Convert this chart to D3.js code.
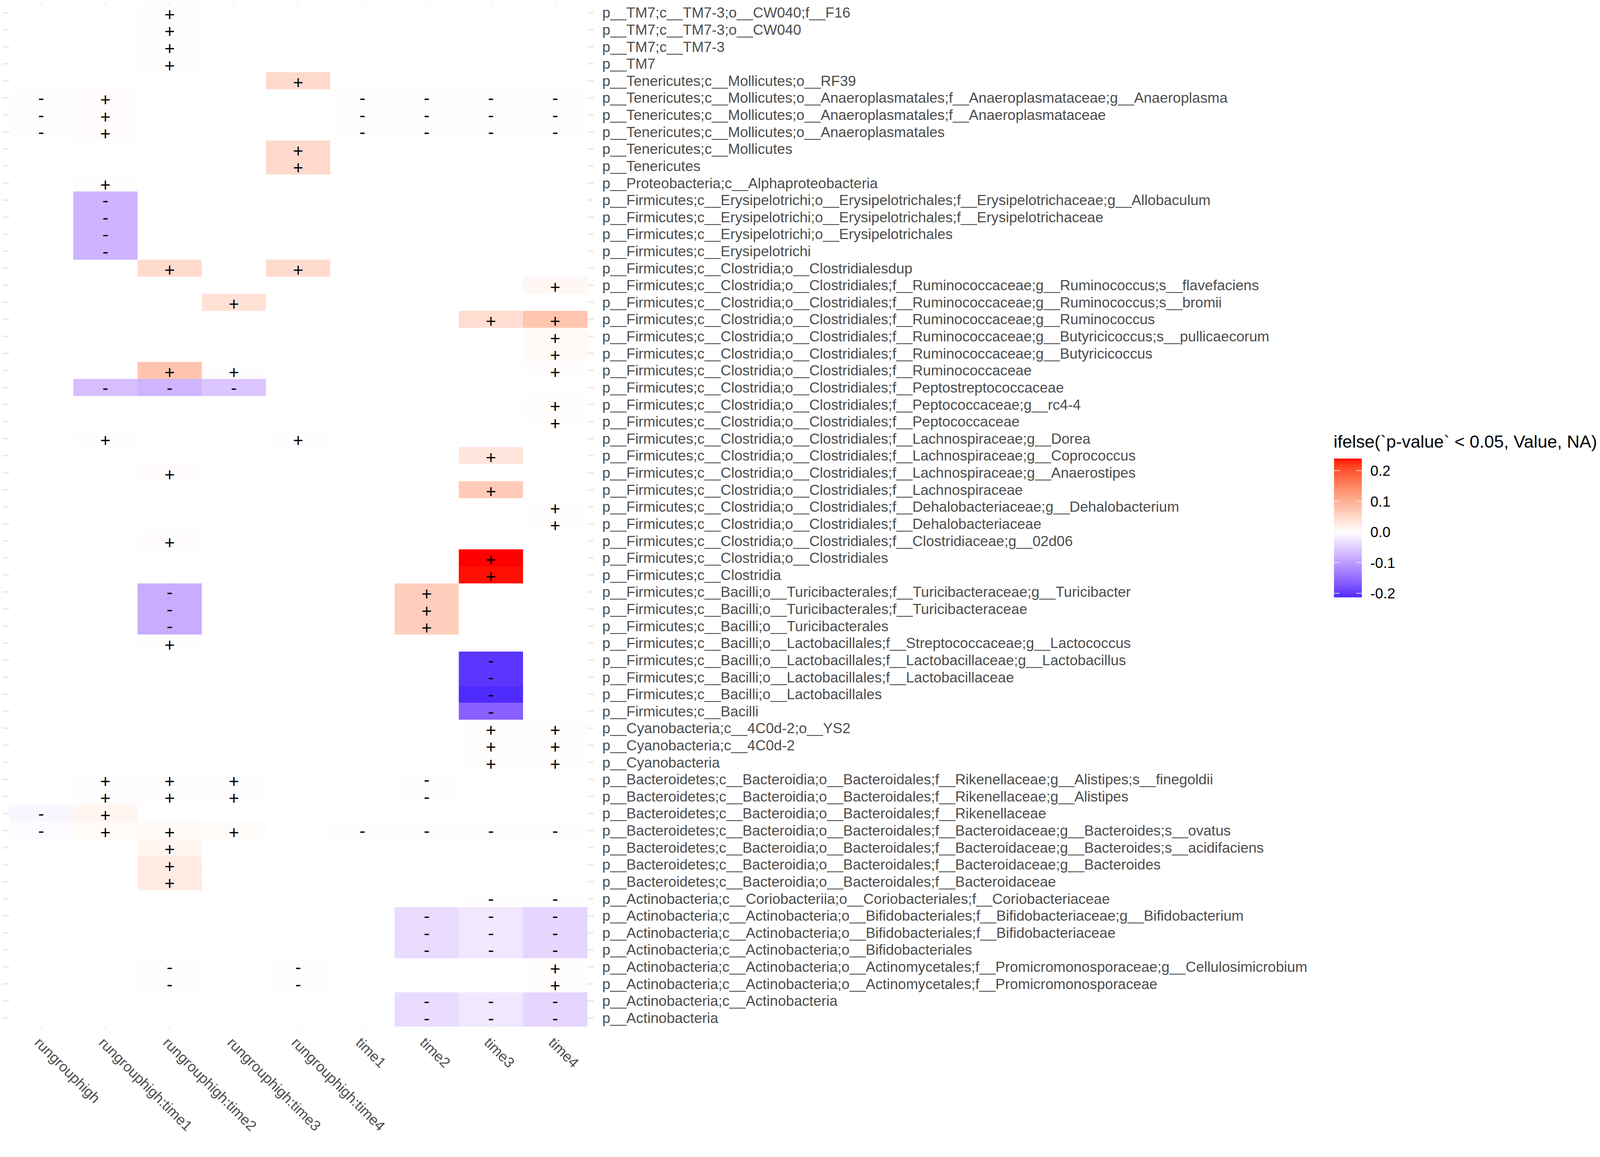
<!DOCTYPE html>
<html>
<head>
<meta charset="utf-8">
<script src="https://cdn.jsdelivr.net/npm/d3@7"></script>
<style>
  html, body { margin: 0; padding: 0; background: #ffffff; overflow: hidden; width: 100%; height: 100%; }
  svg { display: block; width: 100vw; height: 71.5805vw; }
  text { font-family: "Liberation Sans", Arial, Helvetica, sans-serif; }
</style>
</head>
<body>
<svg id="chart" viewBox="0 0 4138 2962" preserveAspectRatio="xMidYMin meet"></svg>
<script>
const N = null;

const columns = ["rungrouphigh", "rungrouphigh:time1", "rungrouphigh:time2", "rungrouphigh:time3",
  "rungrouphigh:time4", "time1", "time2", "time3", "time4"];

const taxa = [
  "p__TM7;c__TM7-3;o__CW040;f__F16",
  "p__TM7;c__TM7-3;o__CW040",
  "p__TM7;c__TM7-3",
  "p__TM7",
  "p__Tenericutes;c__Mollicutes;o__RF39",
  "p__Tenericutes;c__Mollicutes;o__Anaeroplasmatales;f__Anaeroplasmataceae;g__Anaeroplasma",
  "p__Tenericutes;c__Mollicutes;o__Anaeroplasmatales;f__Anaeroplasmataceae",
  "p__Tenericutes;c__Mollicutes;o__Anaeroplasmatales",
  "p__Tenericutes;c__Mollicutes",
  "p__Tenericutes",
  "p__Proteobacteria;c__Alphaproteobacteria",
  "p__Firmicutes;c__Erysipelotrichi;o__Erysipelotrichales;f__Erysipelotrichaceae;g__Allobaculum",
  "p__Firmicutes;c__Erysipelotrichi;o__Erysipelotrichales;f__Erysipelotrichaceae",
  "p__Firmicutes;c__Erysipelotrichi;o__Erysipelotrichales",
  "p__Firmicutes;c__Erysipelotrichi",
  "p__Firmicutes;c__Clostridia;o__Clostridialesdup",
  "p__Firmicutes;c__Clostridia;o__Clostridiales;f__Ruminococcaceae;g__Ruminococcus;s__flavefaciens",
  "p__Firmicutes;c__Clostridia;o__Clostridiales;f__Ruminococcaceae;g__Ruminococcus;s__bromii",
  "p__Firmicutes;c__Clostridia;o__Clostridiales;f__Ruminococcaceae;g__Ruminococcus",
  "p__Firmicutes;c__Clostridia;o__Clostridiales;f__Ruminococcaceae;g__Butyricicoccus;s__pullicaecorum",
  "p__Firmicutes;c__Clostridia;o__Clostridiales;f__Ruminococcaceae;g__Butyricicoccus",
  "p__Firmicutes;c__Clostridia;o__Clostridiales;f__Ruminococcaceae",
  "p__Firmicutes;c__Clostridia;o__Clostridiales;f__Peptostreptococcaceae",
  "p__Firmicutes;c__Clostridia;o__Clostridiales;f__Peptococcaceae;g__rc4-4",
  "p__Firmicutes;c__Clostridia;o__Clostridiales;f__Peptococcaceae",
  "p__Firmicutes;c__Clostridia;o__Clostridiales;f__Lachnospiraceae;g__Dorea",
  "p__Firmicutes;c__Clostridia;o__Clostridiales;f__Lachnospiraceae;g__Coprococcus",
  "p__Firmicutes;c__Clostridia;o__Clostridiales;f__Lachnospiraceae;g__Anaerostipes",
  "p__Firmicutes;c__Clostridia;o__Clostridiales;f__Lachnospiraceae",
  "p__Firmicutes;c__Clostridia;o__Clostridiales;f__Dehalobacteriaceae;g__Dehalobacterium",
  "p__Firmicutes;c__Clostridia;o__Clostridiales;f__Dehalobacteriaceae",
  "p__Firmicutes;c__Clostridia;o__Clostridiales;f__Clostridiaceae;g__02d06",
  "p__Firmicutes;c__Clostridia;o__Clostridiales",
  "p__Firmicutes;c__Clostridia",
  "p__Firmicutes;c__Bacilli;o__Turicibacterales;f__Turicibacteraceae;g__Turicibacter",
  "p__Firmicutes;c__Bacilli;o__Turicibacterales;f__Turicibacteraceae",
  "p__Firmicutes;c__Bacilli;o__Turicibacterales",
  "p__Firmicutes;c__Bacilli;o__Lactobacillales;f__Streptococcaceae;g__Lactococcus",
  "p__Firmicutes;c__Bacilli;o__Lactobacillales;f__Lactobacillaceae;g__Lactobacillus",
  "p__Firmicutes;c__Bacilli;o__Lactobacillales;f__Lactobacillaceae",
  "p__Firmicutes;c__Bacilli;o__Lactobacillales",
  "p__Firmicutes;c__Bacilli",
  "p__Cyanobacteria;c__4C0d-2;o__YS2",
  "p__Cyanobacteria;c__4C0d-2",
  "p__Cyanobacteria",
  "p__Bacteroidetes;c__Bacteroidia;o__Bacteroidales;f__Rikenellaceae;g__Alistipes;s__finegoldii",
  "p__Bacteroidetes;c__Bacteroidia;o__Bacteroidales;f__Rikenellaceae;g__Alistipes",
  "p__Bacteroidetes;c__Bacteroidia;o__Bacteroidales;f__Rikenellaceae",
  "p__Bacteroidetes;c__Bacteroidia;o__Bacteroidales;f__Bacteroidaceae;g__Bacteroides;s__ovatus",
  "p__Bacteroidetes;c__Bacteroidia;o__Bacteroidales;f__Bacteroidaceae;g__Bacteroides;s__acidifaciens",
  "p__Bacteroidetes;c__Bacteroidia;o__Bacteroidales;f__Bacteroidaceae;g__Bacteroides",
  "p__Bacteroidetes;c__Bacteroidia;o__Bacteroidales;f__Bacteroidaceae",
  "p__Actinobacteria;c__Coriobacteriia;o__Coriobacteriales;f__Coriobacteriaceae",
  "p__Actinobacteria;c__Actinobacteria;o__Bifidobacteriales;f__Bifidobacteriaceae;g__Bifidobacterium",
  "p__Actinobacteria;c__Actinobacteria;o__Bifidobacteriales;f__Bifidobacteriaceae",
  "p__Actinobacteria;c__Actinobacteria;o__Bifidobacteriales",
  "p__Actinobacteria;c__Actinobacteria;o__Actinomycetales;f__Promicromonosporaceae;g__Cellulosimicrobium",
  "p__Actinobacteria;c__Actinobacteria;o__Actinomycetales;f__Promicromonosporaceae",
  "p__Actinobacteria;c__Actinobacteria",
  "p__Actinobacteria"
];

// Significant values (p < 0.05) per column, one entry per taxon (null = not significant)
const valRungrouphigh = [
  N, N, N, N, N, -0.002, -0.002, -0.002, N, N,
  N, N, N, N, N, N, N, N, N, N,
  N, N, N, N, N, N, N, N, N, N,
  N, N, N, N, N, N, N, N, N, N,
  N, N, N, N, N, N, N, -0.009, -0.004, N,
  N, N, N, N, N, N, N, N, N, N];
const valRgTime1 = [
  N, N, N, N, N, 0.004, 0.004, 0.004, N, N,
  0.002, -0.078, -0.078, -0.078, -0.078, N, N, N, N, N,
  N, N, -0.065, N, N, 0.002, N, N, N, N,
  N, N, N, N, N, N, N, N, N, N,
  N, N, N, N, N, 0.002, 0.002, 0.012, 0.005, N,
  N, N, N, N, N, N, N, N, N, N];
const valRgTime2 = [
  0.003, 0.003, 0.003, 0.003, N, N, N, N, N, N,
  N, N, N, N, N, 0.046, N, N, N, N,
  N, 0.075, -0.075, N, N, N, N, 0.004, N, N,
  N, 0.004, N, N, -0.085, -0.085, -0.085, 0.002, N, N,
  N, N, N, N, N, 0.002, 0.002, N, 0.006, 0.012,
  0.025, 0.025, N, N, N, N, -0.002, -0.002, N, N];
const valRgTime3 = [
  N, N, N, N, N, N, N, N, N, N,
  N, N, N, N, N, N, N, 0.038, N, N,
  N, 0.002, -0.057, N, N, N, N, N, N, N,
  N, N, N, N, N, N, N, N, N, N,
  N, N, N, N, N, 0.002, 0.002, N, 0.005, N,
  N, N, N, N, N, N, N, N, N, N];
const valRgTime4 = [
  N, N, N, N, 0.048, N, N, N, 0.048, 0.048,
  N, N, N, N, N, 0.046, N, N, N, N,
  N, N, N, N, N, 0.002, N, N, N, N,
  N, N, N, N, N, N, N, N, N, N,
  N, N, N, N, N, N, N, N, N, N,
  N, N, N, N, N, N, -0.002, -0.002, N, N];
const valTime1 = [
  N, N, N, N, N, -0.002, -0.002, -0.002, N, N,
  N, N, N, N, N, N, N, N, N, N,
  N, N, N, N, N, N, N, N, N, N,
  N, N, N, N, N, N, N, N, N, N,
  N, N, N, N, N, N, N, N, -0.003, N,
  N, N, N, N, N, N, N, N, N, N];
const valTime2 = [
  N, N, N, N, N, -0.002, -0.002, -0.002, N, N,
  N, N, N, N, N, N, N, N, N, N,
  N, N, N, N, N, N, N, N, N, N,
  N, N, N, N, 0.063, 0.063, 0.063, N, N, N,
  N, N, N, N, N, -0.001, -0.001, N, -0.003, N,
  N, N, N, -0.035, -0.035, -0.035, N, N, -0.035, -0.035];
const valTime3 = [
  N, N, N, N, N, -0.002, -0.002, -0.002, N, N,
  N, N, N, N, N, N, N, N, 0.042, N,
  N, N, N, N, N, N, 0.033, N, 0.066, N,
  N, N, 0.2395, 0.237, N, N, N, N, -0.205, -0.205,
  -0.2135, -0.165, 0.001, 0.001, 0.001, N, N, N, -0.003, N,
  N, N, -0.001, -0.024, -0.024, -0.024, N, N, -0.024, -0.024];
const valTime4 = [
  N, N, N, N, N, -0.002, -0.002, -0.002, N, N,
  N, N, N, N, N, N, 0.010, N, 0.074, 0.006,
  0.006, 0.002, N, 0.003, 0.002, N, N, N, N, 0.001,
  0.001, N, N, N, N, N, N, N, N, N,
  N, N, 0.001, 0.001, 0.001, N, N, N, -0.003, N,
  N, N, -0.001, -0.042, -0.042, -0.042, 0.002, 0.002, -0.042, -0.042];

const columnValues = [valRungrouphigh, valRgTime1, valRgTime2, valRgTime3, valRgTime4,
  valTime1, valTime2, valTime3, valTime4];

const legendBreaks = [-0.2, -0.1, 0.0, 0.1, 0.2];
const legendTitle = "ifelse(`p-value` < 0.05, Value, NA)";

// ---- build cells
const cells = [];
columns.forEach((col, ci) => {
  taxa.forEach((tx, ri) => {
    cells.push({ col, taxon: tx, value: columnValues[ci][ri] });
  });
});

const allVals = cells.map(d => d.value).filter(v => v !== null);
const [vMin, vMax] = d3.extent(allVals);
const maxAbs = Math.max(Math.abs(vMin), Math.abs(vMax));

// gradient2: low blue, mid white, high red (Lab), rescaled around 0
const posInterp = d3.interpolateLab("#ffffff", "#ff0000");
const negInterp = d3.interpolateLab("#ffffff", "#0000ff");
const fillScale = v => {
  if (v === null) return "#ffffff";
  const t = Math.min(1, Math.abs(v) / maxAbs);
  return v >= 0 ? posInterp(t) : negInterp(t);
};

const svg = d3.select("#chart");
svg.append("rect").attr("width", 4138).attr("height", 2962).attr("fill", "#ffffff");

const panel = { left: 6.8, right: 1535.5, top: 6.2, bottom: 2659.1 };

const x = d3.scaleBand().domain(columns).range([panel.left, panel.right])
  .paddingInner(0).paddingOuter(0.1);
const y = d3.scaleBand().domain(taxa).range([panel.top, panel.bottom])
  .paddingInner(0).paddingOuter(0.1);

// grid lines (major, grey92)
const grid = svg.append("g");
grid.selectAll("line.h").data(taxa).join("line")
  .attr("x1", panel.left).attr("x2", panel.right)
  .attr("y1", d => y(d) + y.bandwidth() / 2).attr("y2", d => y(d) + y.bandwidth() / 2)
  .attr("stroke", "#ebebeb").attr("stroke-width", 4.4);
grid.selectAll("line.v").data(columns).join("line")
  .attr("y1", panel.top).attr("y2", panel.bottom)
  .attr("x1", d => x(d) + x.bandwidth() / 2).attr("x2", d => x(d) + x.bandwidth() / 2)
  .attr("stroke", "#ebebeb").attr("stroke-width", 4.4);

// tiles
svg.append("g").selectAll("rect").data(cells).join("rect")
  .attr("x", d => x(d.col)).attr("y", d => y(d.taxon))
  .attr("width", x.bandwidth() + 0.3).attr("height", y.bandwidth() + 0.3)
  .attr("fill", d => fillScale(d.value));

// sign labels
svg.append("g").selectAll("text").data(cells.filter(d => d.value !== null)).join("text")
  .attr("x", d => x(d.col) + x.bandwidth() / 2)
  .attr("y", d => y(d.taxon) + y.bandwidth() / 2)
  .attr("dy", d => d.value > 0 ? "0.45em" : "0.37em")
  .attr("text-anchor", "middle")
  .attr("font-size", 46)
  .attr("fill", "#000000")
  .text(d => d.value > 0 ? "+" : "-");

// y axis labels (right side)
const yAxisG = svg.append("g").attr("transform", `translate(${panel.right},0)`)
  .call(d3.axisRight(y).tickSize(0).tickPadding(22));
yAxisG.select(".domain").remove();
yAxisG.selectAll("text")
  .attr("font-size", 37.5).attr("fill", "#4d4d4d")
  .attr("font-family", "Liberation Sans, Arial, sans-serif")
  .attr("dy", "0.35em");

// x axis labels (bottom, rotated)
const xAxisG = svg.append("g").attr("transform", `translate(0,${panel.bottom})`)
  .call(d3.axisBottom(x).tickSize(0).tickPadding(0));
xAxisG.select(".domain").remove();
xAxisG.selectAll(".tick text")
  .attr("font-size", 37.5).attr("fill", "#4d4d4d")
  .attr("font-family", "Liberation Sans, Arial, sans-serif")
  .attr("text-anchor", "start")
  .attr("y", 0).attr("dy", "0.73em")
  .attr("transform", "translate(0,20.7) rotate(45)");

// legend
const lg = { x: 3450, w: 72, top: 1186, bottom: 1545 };
const ly = d3.scaleLinear().domain([vMin, vMax]).range([lg.bottom, lg.top]);

svg.append("text").attr("x", 3449).attr("y", 1158)
  .attr("font-size", 45.4).attr("fill", "#000000")
  .text(legendTitle);

const defs = svg.append("defs");
const grad = defs.append("linearGradient").attr("id", "lgGrad")
  .attr("x1", 0).attr("y1", 1).attr("x2", 0).attr("y2", 0);
const nStops = 120;
d3.range(nStops + 1).forEach(i => {
  const v = vMin + (vMax - vMin) * i / nStops;
  grad.append("stop").attr("offset", i / nStops).attr("stop-color", fillScale(v));
});
svg.append("rect").attr("x", lg.x).attr("y", lg.top)
  .attr("width", lg.w).attr("height", lg.bottom - lg.top)
  .attr("fill", "url(#lgGrad)");

const tickLen = lg.w * 0.2;
const lt = svg.append("g");
legendBreaks.forEach(b => {
  const yy = ly(b);
  lt.append("line").attr("x1", lg.x).attr("x2", lg.x + tickLen).attr("y1", yy).attr("y2", yy)
    .attr("stroke", "#ffffff").attr("stroke-width", 1.5);
  lt.append("line").attr("x1", lg.x + lg.w - tickLen).attr("x2", lg.x + lg.w).attr("y1", yy).attr("y2", yy)
    .attr("stroke", "#ffffff").attr("stroke-width", 1.5);
  lt.append("text").attr("x", lg.x + lg.w + 22).attr("y", yy).attr("dy", "0.36em")
    .attr("font-size", 37.5).attr("fill", "#000000")
    .text(b.toFixed(1));
});
</script>
</body>
</html>
